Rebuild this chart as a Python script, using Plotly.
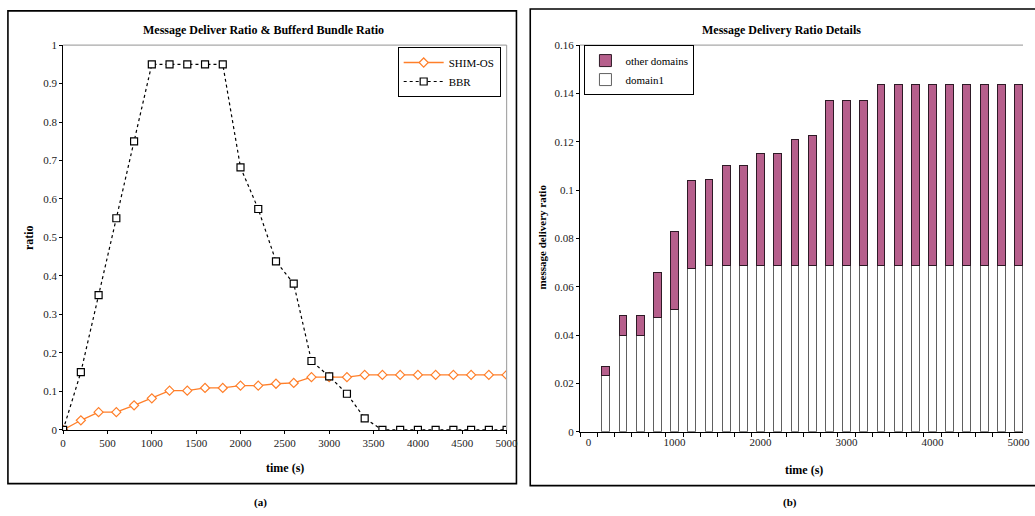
import plotly.graph_objects as go

# ---------------- data ----------------
time_s = [0, 200, 400, 600, 800, 1000, 1200, 1400, 1600, 1800, 2000, 2200, 2400,
          2600, 2800, 3000, 3200, 3400, 3600, 3800, 4000, 4200, 4400, 4600, 4800, 5000]
shim_os = [0, 0.025, 0.046, 0.046, 0.064, 0.082, 0.102, 0.102, 0.109, 0.109, 0.115, 0.115,
           0.120, 0.122, 0.137, 0.137, 0.137, 0.143, 0.143, 0.143, 0.143, 0.143, 0.143,
           0.143, 0.143, 0.143]
bbr = [0, 0.15, 0.35, 0.55, 0.75, 0.95, 0.95, 0.95, 0.95, 0.95, 0.682, 0.574, 0.438,
       0.38, 0.179, 0.139, 0.094, 0.03, 0, 0, 0, 0, 0, 0, 0, 0]

bar_time = [200, 400, 600, 800, 1000, 1200, 1400, 1600, 1800, 2000, 2200, 2400, 2600,
            2800, 3000, 3200, 3400, 3600, 3800, 4000, 4200, 4400, 4600, 4800, 5000]
domain1 = [0.0235, 0.040, 0.040, 0.0475, 0.0505, 0.0675, 0.069, 0.069, 0.069, 0.069,
           0.069, 0.069, 0.069, 0.069, 0.069, 0.069, 0.069, 0.069, 0.069, 0.069,
           0.069, 0.069, 0.069, 0.069, 0.069]
total_ratio = [0.027, 0.048, 0.048, 0.066, 0.083, 0.104, 0.1045, 0.110, 0.110, 0.115,
               0.115, 0.121, 0.1225, 0.137, 0.137, 0.137, 0.1435, 0.1435, 0.1435, 0.1435,
               0.1435, 0.1435, 0.1435, 0.1435, 0.1435]
other_domains = [round(t - d, 4) for t, d in zip(total_ratio, domain1)]

# ---------------- figure ----------------
W, H = 1035, 516
FONT = "Liberation Serif, Times New Roman, serif"
def px(x):
    return x / W
def py(y):
    return 1 - y / H

fig = go.Figure()

fig.add_trace(go.Scatter(
    x=time_s, y=shim_os, name="SHIM-OS", mode="lines+markers",
    line=dict(color="#ff7f2a", width=1.3),
    marker=dict(symbol="diamond", size=7, color="white",
                line=dict(color="#ff7f2a", width=1.2)),
    xaxis="x", yaxis="y", legend="legend"))
fig.add_trace(go.Scatter(
    x=time_s, y=bbr, name="BBR", mode="lines+markers",
    line=dict(color="black", width=1.2, dash="dot"),
    marker=dict(symbol="square", size=7, color="white",
                line=dict(color="black", width=1.2)),
    xaxis="x", yaxis="y", legend="legend"))

fig.add_trace(go.Bar(
    x=bar_time, y=domain1, name="domain1", width=92,
    marker=dict(color="white", line=dict(color="#606060", width=1)),
    xaxis="x2", yaxis="y2", legend="legend2"))
fig.add_trace(go.Bar(
    x=bar_time, y=other_domains, name="other domains", width=92,
    marker=dict(color="#b65f8c", line=dict(color="#2e1a26", width=1)),
    xaxis="x2", yaxis="y2", legend="legend2"))

tickfont = dict(family=FONT, size=11, color="#222")

fig.update_layout(
    width=W, height=H,
    margin=dict(l=0, r=0, t=0, b=0),
    paper_bgcolor="white", plot_bgcolor="white",
    barmode="stack",
    font=dict(family=FONT, size=11, color="black"),
    xaxis=dict(domain=[px(61), px(511)], range=[0, 5000], anchor="y",
               tickvals=[0, 500, 1000, 1500, 2000, 2500, 3000, 3500, 4000, 4500, 5000],
               ticks="outside", ticklen=3, tickcolor="black",
               showline=True, linecolor="black", linewidth=1,
               showgrid=False, zeroline=False, tickfont=tickfont),
    yaxis=dict(domain=[py(434), py(40)], range=[0, 1], anchor="x",
               dtick=0.1, ticks="outside", ticklen=3, tickcolor="black",
               showline=True, linecolor="black", linewidth=1,
               showgrid=False, zeroline=False, tickfont=tickfont),
    xaxis2=dict(domain=[px(585.5), 1], range=[-100, 5052], anchor="y2",
                tickvals=[0, 1000, 2000, 3000, 4000, 5000], ticks="",
                minor=dict(tick0=100, dtick=200, ticks="outside", ticklen=4,
                           tickcolor="black", showgrid=False),
                showline=True, linecolor="black", linewidth=1,
                showgrid=False, zeroline=False, tickfont=tickfont),
    yaxis2=dict(domain=[py(436), py(40)], range=[0, 0.16], anchor="x2",
                dtick=0.02, ticks="outside", ticklen=3, tickcolor="black",
                showline=True, linecolor="black", linewidth=1,
                showgrid=False, zeroline=False, tickfont=tickfont),
    legend=dict(x=px(505), xanchor="right", y=py(42), yanchor="top",
                bgcolor="white", bordercolor="black", borderwidth=1,
                font=dict(family=FONT, size=11, color="black"),
                tracegroupgap=0, itemwidth=40),
    legend2=dict(x=px(590), xanchor="left", y=py(40), yanchor="top",
                 bgcolor="white", bordercolor="black", borderwidth=1,
                 traceorder="reversed",
                 font=dict(family=FONT, size=11, color="black"),
                 tracegroupgap=0, itemwidth=30),
    showlegend=True,
)

shapes = [
    # outer frames
    dict(type="rect", xref="paper", yref="paper", x0=px(5), x1=px(521), y0=py(489), y1=py(5),
         line=dict(color="black", width=1.6), fillcolor="rgba(0,0,0,0)", layer="below"),
    dict(type="rect", xref="paper", yref="paper", x0=px(535), x1=1.02, y0=py(491), y1=py(3),
         line=dict(color="black", width=1.6), fillcolor="rgba(0,0,0,0)", layer="below"),
    # gray top/right plot borders
    dict(type="line", xref="x domain", yref="y domain", x0=0, x1=1, y0=1, y1=1,
         line=dict(color="#a8a8a8", width=1.2)),
    dict(type="line", xref="x domain", yref="y domain", x0=1, x1=1, y0=0, y1=1,
         line=dict(color="#a8a8a8", width=1.2)),
    dict(type="line", xref="x2 domain", yref="y2 domain", x0=0, x1=1, y0=1, y1=1,
         line=dict(color="#a8a8a8", width=1.2)),
]
fig.update_layout(shapes=shapes)

def ann(text, x, y, size=12, bold=True, angle=0):
    fig.add_annotation(text=f"<b>{text}</b>" if bold else text, x=x, y=y,
                       xref="paper", yref="paper", xanchor="center", yanchor="middle",
                       showarrow=False, textangle=angle,
                       font=dict(family=FONT, size=size, color="black"))

ann("Message Deliver Ratio &amp; Bufferd Bundle Ratio", px(264), py(25), 12)
ann("Message Delivery Ratio Details", px(790), py(25), 12)
ann("ratio", px(27), py(237), 12, angle=-90)
ann("message delivery ratio", px(547), py(237), 11, angle=-90)
ann("time (s)", px(286), py(473), 12)
ann("time (s)", px(813), py(475), 12)
ann("(a)", px(261), py(508), 11)
ann("(b)", px(799), py(508), 11)

fig.write_html("out.html", include_plotlyjs=True,
               config={"displayModeBar": False},
               post_script="document.body.style.margin='0';document.body.style.overflow='hidden';")
